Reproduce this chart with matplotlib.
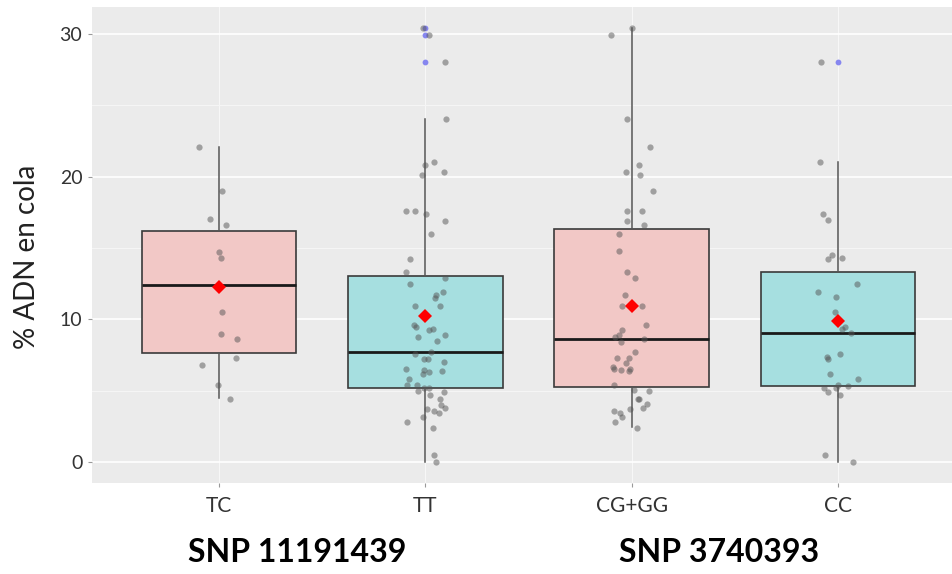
import numpy as np
import matplotlib
matplotlib.use("Agg")
from matplotlib import pyplot as plt

# categorias y grupos
genotipos = ["TC", "TT", "CG+GG", "CC"]
snps = ["SNP 11191439", "SNP 3740393"]

# puntos individuales (% ADN en cola)
tc_vals = [22.1, 19.0, 17.0, 16.6, 14.7, 14.3, 10.5, 9.0, 8.6, 7.3, 6.8, 5.4, 4.4]
tt_vals = [30.4, 29.95, 28.0, 24.0, 20.8, 21.0, 20.1, 20.3, 17.6, 17.6,
           17.4, 16.9, 16.0, 14.2, 13.3, 12.5, 12.9, 11.9, 11.7, 11.5,
           10.95, 10.95, 9.6, 9.46, 8.78, 9.25, 9.3, 8.9, 8.46, 7.6,
           7.7, 7.24, 7.24, 6.99, 6.54, 6.45, 6.33, 6.4, 6.17, 5.8,
           5.4, 5.4, 4.98, 5.19, 5.19, 4.93, 4.67, 4.41, 4.0, 3.76,
           3.69, 3.55, 3.41, 3.18, 2.8, 2.38, 0.47, 0.0]
cg_vals = [29.95, 30.4, 24.0, 22.07, 20.8, 20.1, 20.35, 18.97, 17.6, 17.6,
           16.9, 16.6, 16.0, 14.76, 13.3, 12.9, 11.7, 10.95, 10.95, 9.58,
           9.27, 8.92, 8.76, 8.43, 8.6, 7.7, 7.29, 7.29, 6.96, 6.68,
           6.52, 6.42, 6.38, 6.5, 5.42, 5.05, 4.98, 4.44, 4.42, 4.04,
           3.76, 3.69, 3.57, 3.41, 3.18, 2.8, 2.38]
cc_vals = [28.0, 21.0, 17.4, 16.98, 14.53, 14.2, 14.27, 12.45, 11.9, 11.56,
           10.5, 9.48, 9.32, 9.02, 7.6, 7.36, 7.22, 6.17, 5.8, 5.21,
           4.9, 5.19, 5.4, 5.35, 4.67, 0.47, 0.0]

# desplazamiento horizontal (jitter) de cada punto
tc_jit = [-0.097, 0.013, -0.044, 0.034, 0.0, 0.008, 0.013, 0.011, 0.086, 0.081,
          -0.084, -0.003, 0.053]
tt_jit = [-0.011, 0.018, 0.094, 0.100, -0.002, 0.042, -0.015, 0.089, -0.094, -0.048,
          0.005, 0.094, 0.026, -0.073, -0.094, -0.073, 0.094, 0.086, 0.053, 0.047,
          -0.048, 0.073, -0.057, -0.045, -0.037, 0.018, 0.036, 0.097, 0.057, -0.052,
          0.029, -0.008, 0.015, 0.089, -0.094, -0.008, 0.018, 0.082, -0.011, -0.081,
          -0.089, -0.040, -0.036, -0.008, 0.016, 0.090, 0.024, 0.073, 0.078, 0.094,
          0.008, 0.040, 0.068, -0.010, -0.090, 0.036, 0.042, 0.053]
cg_jit = [-0.099, 0.0, -0.021, 0.090, 0.037, 0.040, -0.027, 0.102, -0.024, 0.048,
          -0.021, 0.058, -0.060, -0.060, -0.021, 0.016, -0.031, -0.045, 0.052, 0.071,
          -0.045, -0.061, -0.081, -0.053, 0.058, 0.016, -0.073, -0.015, -0.027, -0.089,
          -0.086, -0.053, -0.015, -0.006, -0.087, 0.010, 0.082, 0.032, 0.034, 0.076,
          0.055, -0.006, -0.087, -0.057, -0.048, -0.079, 0.026]
cc_jit = [-0.081, -0.089, -0.074, -0.048, -0.031, -0.047, 0.019, 0.090, -0.099, -0.010,
          -0.016, 0.032, 0.018, 0.061, 0.008, -0.053, -0.047, -0.039, 0.097, -0.066,
          -0.048, -0.010, 0.0, 0.050, 0.008, -0.063, 0.073]

# estadisticos de las cajas
q1 = [7.66, 5.16, 5.23, 5.35]
medianas = [12.4, 7.68, 8.6, 9.04]
q3 = [16.2, 13.03, 16.3, 13.3]
bigote_inf = [4.48, 0.0, 2.43, 0.0]
bigote_sup = [22.1, 24.0, 30.4, 21.0]
medias = [12.25, 10.2, 10.95, 9.88]
atipicos = [[], [30.4, 29.95, 28.0], [], [28.0]]

puntos = [tc_vals, tt_vals, cg_vals, cc_vals]
jitter = [tc_jit, tt_jit, cg_jit, cc_jit]
rellenos = ["#F2C8C6", "#A6DFE0", "#F2C8C6", "#A6DFE0"]

plt.rcParams['font.family'] = ['Lato', 'DejaVu Sans']

fig = plt.figure(figsize=(9.53, 5.74), dpi=100)
ax = fig.add_axes([92 / 953, 91 / 574, 861 / 953, 476 / 574])
ax.set_facecolor("#EBEBEB")

pos = np.arange(1, len(genotipos) + 1)
stats = []
for i, g in enumerate(genotipos):
    stats.append(dict(label=g, q1=q1[i], med=medianas[i], q3=q3[i],
                      whislo=bigote_inf[i], whishi=bigote_sup[i], fliers=[]))

bp = ax.bxp(stats, positions=pos, widths=0.75, patch_artist=True, showfliers=False,
            showcaps=False, zorder=2,
            boxprops=dict(edgecolor="#3a3a3a", linewidth=1.2),
            medianprops=dict(color="#1a1a1a", linewidth=2),
            whiskerprops=dict(color="#555555", linewidth=1.1))
for patch, c in zip(bp["boxes"], rellenos):
    patch.set_facecolor(c)

# atipicos (azul)
for i, out in enumerate(atipicos):
    if out:
        ax.plot([pos[i]] * len(out), out, "o", color="#7B7BF0", markersize=4.2,
                markeredgewidth=0, alpha=0.9, zorder=3)

# puntos con jitter
for i in range(len(genotipos)):
    xs = pos[i] + np.array(jitter[i])
    ax.plot(xs, puntos[i], "o", color="#555555", alpha=0.5, markersize=4.5,
            markeredgewidth=0, zorder=4)

# medias
ax.plot(pos, medias, "D", color="#FF0000", markersize=7, markeredgewidth=0, zorder=5)

ax.set_xlim(0.385, 4.557)
ax.set_ylim(-1.47, 31.88)
ax.set_yticks([0, 10, 20, 30])
ax.set_yticks([5, 15, 25], minor=True)
ax.set_xticks(pos)
ax.set_xticklabels(genotipos)
ax.grid(which="major", axis="y", color="white", linewidth=1.2, zorder=0)
ax.grid(which="major", axis="x", color="#F7F7F7", linewidth=0.8, zorder=0)
ax.grid(which="minor", axis="y", color="#F5F5F5", linewidth=0.8, zorder=0)
ax.set_axisbelow(True)
for s in ax.spines.values():
    s.set_visible(False)
ax.tick_params(axis="both", which="major", length=3, color="#999999",
               labelsize=14, labelcolor="#333333", pad=4)
ax.tick_params(axis="y", which="minor", length=0)
ax.tick_params(axis="x", pad=6, labelsize=15)

fig.text(27 / 953, 1 - 257 / 574, "% ADN en cola", rotation=90, fontsize=20,
         ha="center", va="center", color="#222222")

fig.text(297 / 953, 1 - 553 / 574, snps[0], fontsize=23, fontweight="bold",
         ha="center", va="center")
fig.text(719 / 953, 1 - 553 / 574, snps[1], fontsize=23, fontweight="bold",
         ha="center", va="center")

fig.savefig("out.png", dpi=100)
